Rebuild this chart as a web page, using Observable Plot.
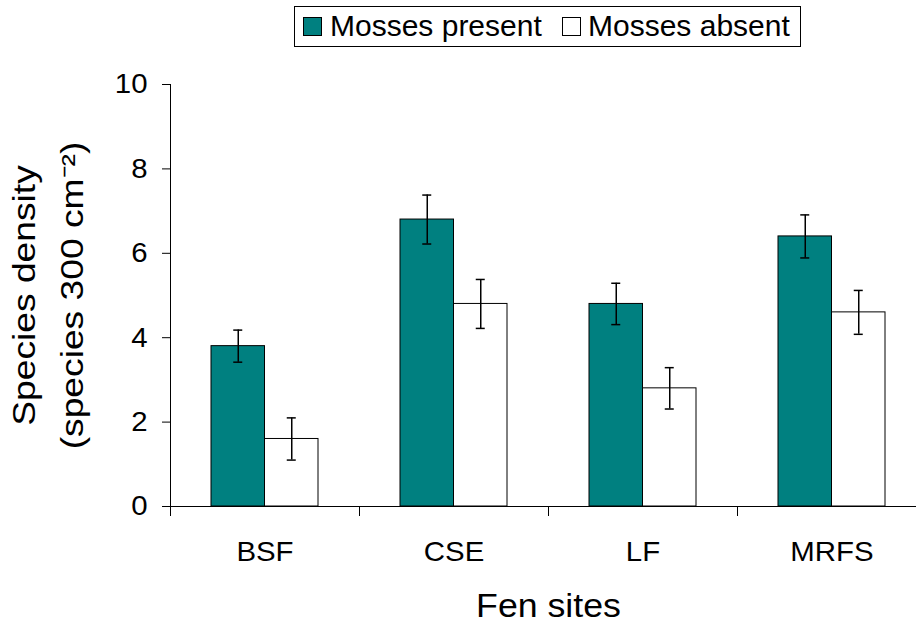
<!DOCTYPE html>
<html>
<head>
<meta charset="utf-8">
<script src="https://cdn.jsdelivr.net/npm/d3@7"></script>
<script src="https://cdn.jsdelivr.net/npm/@observablehq/plot@0.6"></script>
<style>
  body { margin: 0; background: #fff; font-family: "Liberation Sans", Arial, sans-serif; }
  #wrap { position: relative; width: 916px; height: 624px; overflow: hidden; background: #fff; }
  #legend { position: absolute; left: 294px; top: 6px; width: 507px; height: 41px; border: 1px solid #000; box-sizing: border-box; }
  .sw { position: absolute; top: 10px; width: 19px; height: 19px; border: 1px solid #000; box-sizing: border-box; }
  .lt { position: absolute; top: 2px; font-size: 30px; line-height: 34px; color: #000; white-space: nowrap; }
  #chart { position: absolute; left: 0; top: 0; }
</style>
</head>
<body>
<div id="wrap">
  <div id="chart"></div>
  <div id="legend"></div>
</div>
<script>
// ---- data ----
const sites = ["BSF", "CSE", "LF", "MRFS"];
const seriesNames = ["Mosses present", "Mosses absent"];
const seriesColors = ["#008080", "#ffffff"];
const presentMean = [3.8, 6.8, 4.8, 6.4];
const presentErr = [0.38, 0.58, 0.49, 0.51];
const absentMean = [1.6, 4.8, 2.8, 4.6];
const absentErr = [0.5, 0.58, 0.49, 0.52];
const yTicks = [0, 2, 4, 6, 8, 10];
const xTitle = "Fen sites";
const yTitle = "Species density\n(species 300 cm\u207B\u00B2)";

// ---- layout ----
const W = 916, H = 624;
const mLeft = 170, mRight = -10, mTop = 84, mBottom = 118;
const bw = (W - mRight - mLeft) / sites.length; // band width
const barW = 53.5;
const capW = 9;
const half = bw / 2;

const rows = [];
sites.forEach((s, i) => {
  rows.push({site: s, series: seriesNames[0], k: 0, value: presentMean[i], err: presentErr[i]});
  rows.push({site: s, series: seriesNames[1], k: 1, value: absentMean[i], err: absentErr[i]});
});
const P = rows.filter(d => d.k === 0);
const A = rows.filter(d => d.k === 1);

const barOpts = (k) => ({
  x: "site", y: "value",
  fill: seriesColors[k], stroke: "#000", strokeWidth: 1,
  insetLeft: k === 0 ? half - barW : half,
  insetRight: k === 0 ? half : half - barW
});
const errOpts = (k) => ({
  x: "site", y1: d => d.value - d.err, y2: d => d.value + d.err,
  dx: k === 0 ? -barW / 2 : barW / 2, stroke: "#000", strokeWidth: 1.5
});
const capOpts = (k, f) => ({
  x: "site", y: f, stroke: "#000", strokeWidth: 1.5,
  insetLeft: k === 0 ? half - barW / 2 - capW / 2 : half + barW / 2 - capW / 2,
  insetRight: k === 0 ? half + barW / 2 - capW / 2 : half - barW / 2 - capW / 2
});
const lo = d => d.value - d.err, hi = d => d.value + d.err;

const chart = Plot.plot({
  width: W, height: H,
  marginLeft: mLeft, marginRight: mRight, marginTop: mTop, marginBottom: mBottom,
  style: {fontFamily: "'Liberation Sans', Arial, sans-serif", fontSize: "28px", color: "#000", background: "transparent"},
  x: {type: "band", domain: sites, padding: 0, label: null},
  y: {domain: [0, 10], label: null},
  marks: [
    Plot.barY(P, barOpts(0)),
    Plot.barY(A, barOpts(1)),
    Plot.ruleX(P, errOpts(0)),
    Plot.ruleX(A, errOpts(1)),
    Plot.tickY(P, capOpts(0, lo)),
    Plot.tickY(P, capOpts(0, hi)),
    Plot.tickY(A, capOpts(1, lo)),
    Plot.tickY(A, capOpts(1, hi)),
    Plot.ruleY([0], {stroke: "#000", strokeWidth: 1}),
    Plot.ruleX(sites.slice(0, 1), {x: d => d, dx: -half, stroke: "#000", strokeWidth: 1}),
    Plot.axisY({ticks: yTicks, tickSize: 8, tickPadding: 15, fontSize: 28, label: null}),
    Plot.axisX({tickSize: 10, dx: -half, tickFormat: () => "", label: null}),
    Plot.axisX({tickSize: 0, tickPadding: 35, fontSize: 28, label: null}),
    Plot.text([xTitle], {text: d => d, frameAnchor: "bottom", lineAnchor: "top", dy: 86, fontSize: 34}),
    Plot.text([yTitle], {text: d => d, frameAnchor: "left", rotate: -90, dx: -127, fontSize: 31,
      lineHeight: 1.55, textAnchor: "middle", lineAnchor: "middle"})
  ]
});
document.getElementById("chart").appendChild(chart);

// widen glyphs slightly along the text direction (reference text is set wide)
function stretch(el, k) {
  const len = el.getComputedTextLength();
  if (len > 0) {
    el.setAttribute("textLength", (len * k).toFixed(2));
    el.setAttribute("lengthAdjust", "spacingAndGlyphs");
  }
}
chart.querySelectorAll("text").forEach(t => {
  const fs = parseFloat(getComputedStyle(t).fontSize);
  const k = fs === 31 ? 1.2 : 1.05;
  const spans = t.querySelectorAll("tspan");
  if (spans.length) spans.forEach(s => stretch(s, k)); else stretch(t, k);
});

// ---- legend (HTML, above the SVG) ----
const legend = document.getElementById("legend");
const items = [{sw: 8, tx: 35}, {sw: 267, tx: 293}];
seriesNames.forEach((name, k) => {
  const sq = document.createElement("div");
  sq.className = "sw";
  sq.style.left = items[k].sw + "px";
  sq.style.background = seriesColors[k];
  legend.appendChild(sq);
  const t = document.createElement("span");
  t.className = "lt";
  t.style.left = items[k].tx + "px";
  t.textContent = name;
  legend.appendChild(t);
});
</script>
</body>
</html>
